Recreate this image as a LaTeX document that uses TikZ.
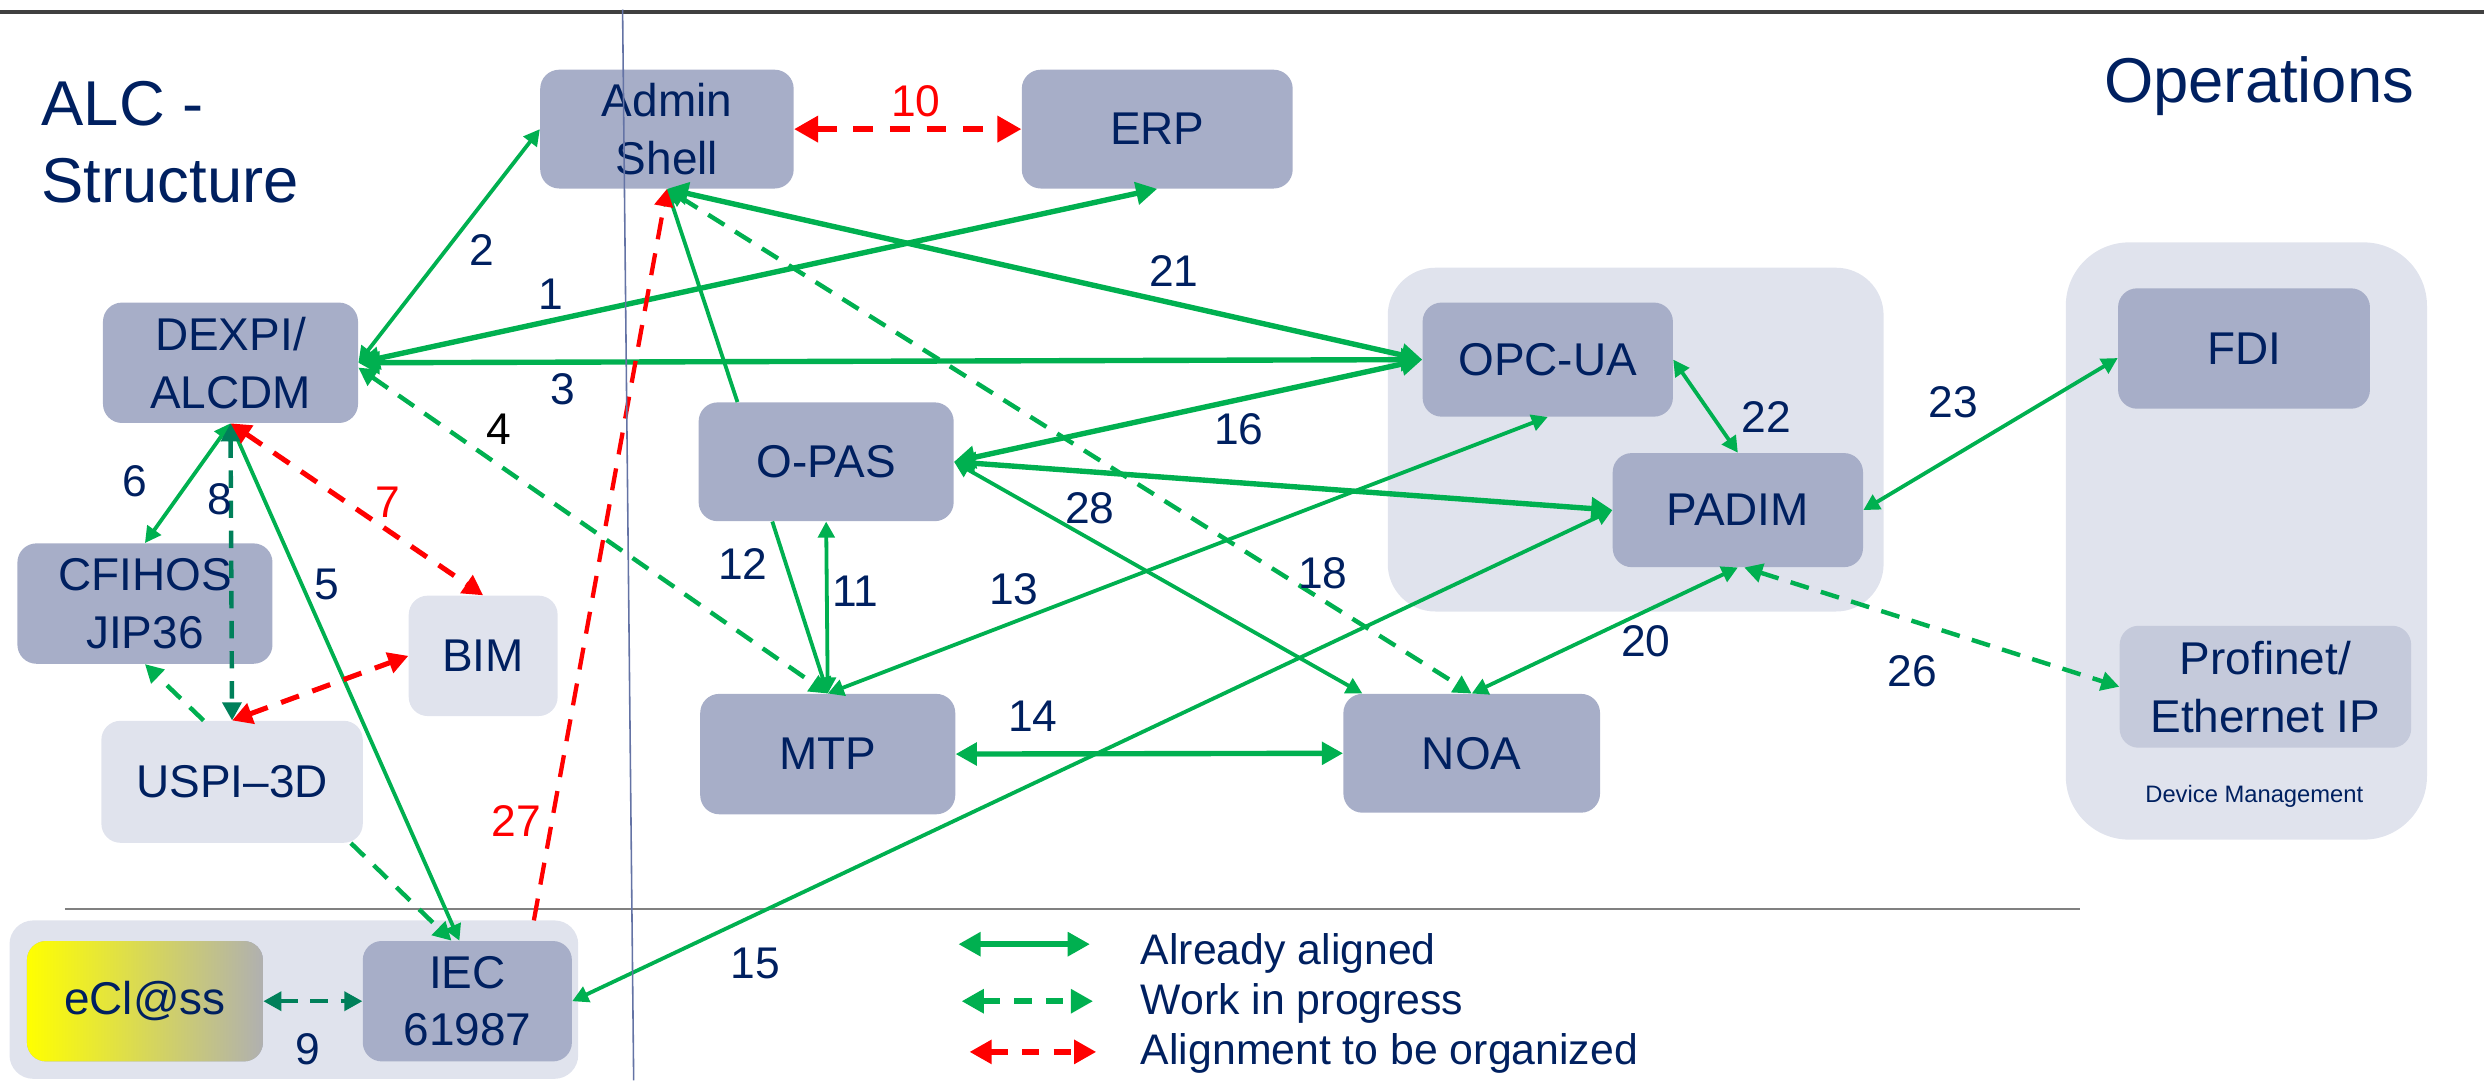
\documentclass[tikz,border=0pt]{standalone}
\usepackage{fontspec}
\setmainfont{Liberation Sans}
\usetikzlibrary{arrows.meta,calc}
\definecolor{navy}{RGB}{0,32,96}
\definecolor{boxdark}{RGB}{167,174,200}
\definecolor{boxlight}{RGB}{224,227,237}
\definecolor{boxmid}{RGB}{197,202,219}
\definecolor{grn}{RGB}{0,176,80}
\definecolor{teal2}{RGB}{0,128,90}
\definecolor{rd}{RGB}{255,0,0}
\definecolor{vline}{RGB}{100,115,165}
\definecolor{topline}{RGB}{64,64,64}
\definecolor{sepline}{RGB}{128,128,128}
\definecolor{eclgray}{RGB}{176,176,176}
\begin{document}
\begin{tikzpicture}[x=1pt,y=-1pt,
  >={Triangle[length=2.5pt 3.2,width=2pt 3.5]},
  box/.style={rounded corners=12pt, fill=boxdark, text=navy, font=\fontsize{29}{36.5}\selectfont, align=center, inner sep=0pt},
  lbox/.style={box, fill=boxlight},
  sz/.style 2 args={minimum width=#1pt, minimum height=#2pt},
  grp/.style={fill=boxlight, draw=none, inner sep=0pt},
  lab/.style={text=navy, font=\fontsize{28}{30}\selectfont, inner sep=0pt},
  ok/.style={draw=grn, line width=2.4pt},
  okk/.style={draw=grn, line width=3.4pt},
  wip/.style={draw=grn, line width=2.8pt, dash pattern=on 12pt off 8pt},
  wipd/.style={draw=teal2, line width=2.8pt, dash pattern=on 11pt off 8pt},
  todo/.style={draw=rd, line width=3.2pt, dash pattern=on 12pt off 9pt},
  ttl/.style={text=navy, font=\fontsize{40}{49}\selectfont, inner sep=0pt},
  leg/.style={text=navy, font=\fontsize{27}{30}\selectfont, inner sep=0pt},
]
\useasboundingbox (0,0) rectangle (1568,682);
% top rule
\coordinate (tl) at (0,7.5);
\coordinate (tr) at (1568,7.5);
\draw[topline, line width=2.5pt] (tl) -- (tr);

% groups
\node[grp, rounded corners=30pt, sz={313}{217}] (gopc) at (1032.5,277.5) {};
\node[grp, rounded corners=40pt, sz={228}{377}] (gdm) at (1418,341.5) {};
\node[grp, rounded corners=15pt, sz={359}{100}] (giec) at (185.5,631) {};

% separator
\coordinate (sl) at (41,574);
\coordinate (sr) at (1313,574);
\draw[sepline, line width=1.3pt] (sl) -- (sr);

% titles
\node[ttl, anchor=base west] (t1) at (26,79) {ALC -};
\node[ttl, anchor=base west] (t2) at (26,128) {Structure};
\node[ttl, anchor=base west] (t3) at (1328,65) {Operations};

% nodes
\node[box, sz={160}{75}] (admin) at (421,81.5) {Admin\\Shell};
\node[box, sz={171}{75}] (erp) at (730.5,81.5) {ERP};
\node[box, sz={161}{76}] (dexpi) at (145.5,229) {DEXPI/\\ALCDM};
\node[box, sz={161}{76}] (cfihos) at (91.5,381) {CFIHOS\\JIP36};
\node[lbox, sz={94}{76}] (bim) at (305,414) {BIM};
\node[lbox, sz={165}{77}] (uspi) at (146.5,493.5) {USPI--3D};
\node[box, sz={161}{75}] (opas) at (521.5,291.5) {O-PAS};
\node[box, sz={161}{76}] (mtp) at (522.5,476) {MTP};
\node[box, sz={162}{75}] (noa) at (929,475.5) {NOA};
\node[box, sz={158}{72}] (opc) at (977,227) {OPC-UA};
\node[box, sz={158}{72}] (padim) at (1097,322) {PADIM};
\node[box, sz={159}{76}] (fdi) at (1416.5,220) {FDI};
\node[box, fill=boxmid, sz={184}{77}] (profinet) at (1430,433.5) {Profinet/\\Ethernet IP};
\node[box, left color=yellow, right color=eclgray, sz={149}{76}] (ecl) at (91.5,632) {eCl@ss};
\node[box, sz={132}{76}] (iec) at (295,632) {IEC\\61987};
\node[text=navy, font=\fontsize{15}{18}\selectfont, inner sep=0pt] (dm) at (1423,503) {Device Management};

% connectors
\draw[okk,<->] (dexpi.east) -- (erp.south);
\draw[ok,<->] (dexpi.east) -- (admin.west);
\draw[okk,<->] (dexpi.east) -- (opc.west);
\draw[wip,<->] ([yshift=-3pt]dexpi.east) -- (mtp.north);
\draw[ok,<->] (dexpi.south) -- ([xshift=-5pt]iec.north);
\draw[ok,<->] (dexpi.south) -- (cfihos.north);
\draw[todo,<->] (dexpi.south) -- (bim.north);
\draw[wipd,<->] (dexpi.south) -- (uspi.north);
\draw[todo,<->] (uspi.north) -- (bim.west);
\draw[wip,->] ([xshift=-18pt]uspi.north) -- (cfihos.south);
\draw[wip,->] ([xshift=75pt]uspi.south) -- ([xshift=-10pt]iec.north);
\draw[wipd,<->] (ecl.east) -- (iec.west);
\draw[todo,<->,line width=4pt,dash pattern=on 12.6pt off 10.5pt] (admin.east) -- (erp.west);
\draw[ok,<->] (opas.south) -- (mtp.north);
\draw[ok,->] ([xshift=-34pt]opas.south) -- (mtp.north);
\draw[ok,<->] (mtp.north) -- (opc.south);
\draw[okk,<->] (mtp.east) -- (noa.west);
\draw[ok,<->] (iec.east) -- (padim.west);
\draw[okk,<->] (opas.east) -- (opc.west);
\draw[okk,<->] (opas.east) -- (padim.west);
\draw[wip,<->] (admin.south) -- (noa.north);
\draw[ok,->] ([xshift=-56pt]opas.north) -- (admin.south);
\draw[ok,<->] (padim.south) -- (noa.north);
\draw[okk,<->] (admin.south) -- (opc.west);
\draw[ok,<->] (opc.east) -- (padim.north);
\draw[ok,<->] (padim.east) -- ([yshift=-6pt]fdi.west);
\draw[wip,<->] ([xshift=4pt]padim.south) -- (profinet.west);
\coordinate (c27) at (337,581);
\draw[todo,->,line width=2.7pt,dash pattern=on 14pt off 9pt] (c27) -- (admin.south);
\draw[ok,<->] (opas.east) -- ([xshift=-69pt]noa.north);

% labels
\node[lab] (l1) at (348,186) {1};
\node[lab] (l2) at (304,158) {2};
\node[lab] (l3) at (355,246) {3};
\node[lab, text=black] (l4) at (315,271) {4};
\node[lab] (l5) at (206,369) {5};
\node[lab] (l6) at (85,304) {6};
\node[lab, text=rd] (l7) at (245,317) {7};
\node[lab] (l8) at (139,315) {8};
\node[lab] (l9) at (194,662) {9};
\node[lab, text=rd] (l10) at (578,64) {10};
\node[lab] (l11) at (540,373) {11};
\node[lab] (l12) at (469,356) {12};
\node[lab] (l13) at (640,372) {13};
\node[lab] (l14) at (652,452) {14};
\node[lab] (l15) at (477,608) {15};
\node[lab] (l16) at (782,271) {16};
\node[lab] (l18) at (835,362) {18};
\node[lab] (l20) at (1039,405) {20};
\node[lab] (l21) at (741,171) {21};
\node[lab] (l22) at (1115,263) {22};
\node[lab] (l23) at (1233,254) {23};
\node[lab] (l26) at (1207,424) {26};
\node[lab, text=rd] (l27) at (326,518) {27};
\node[lab] (l28) at (688,321) {28};

% legend
\coordinate (a1) at (605,596); \coordinate (b1) at (688,596);
\coordinate (a2) at (607,632); \coordinate (b2) at (690,632);
\coordinate (a3) at (612,664); \coordinate (b3) at (692,664);
\draw[okk,<->,line width=3.6pt] (a1) -- (b1);
\draw[wip,<->,line width=3.6pt,dash pattern=on 11pt off 9pt] (a2) -- (b2);
\draw[todo,<->,line width=3.6pt,dash pattern=on 11pt off 9pt] (a3) -- (b3);
\node[leg, anchor=base west] (g1) at (720,609) {Already aligned};
\node[leg, anchor=base west] (g2) at (720,640.5) {Work in progress};
\node[leg, anchor=base west] (g3) at (720,672) {Alignment to be organized};

% thin vertical line
\coordinate (vt) at (393,6);
\coordinate (vb) at (400,682);
\draw[vline, line width=1pt] (vt) -- (vb);
\end{tikzpicture}
\end{document}
